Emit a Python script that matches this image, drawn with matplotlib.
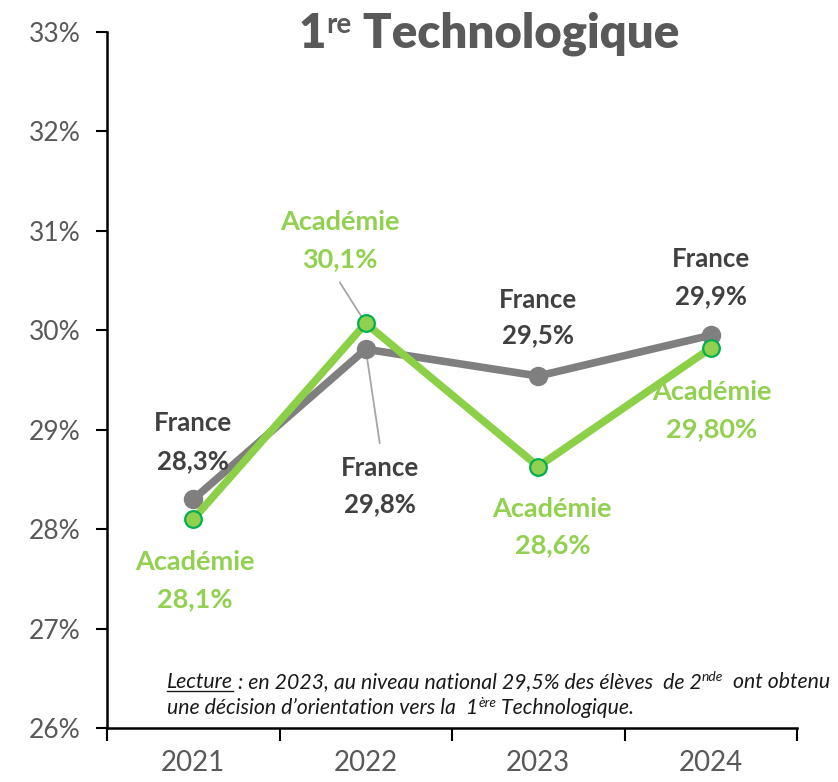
import matplotlib
matplotlib.use('Agg')
import matplotlib.pyplot as plt

plt.rcParams['font.family'] = ['Lato', 'DejaVu Sans']

# ---- data ----
years = ['2021', '2022', '2023', '2024']
france = [28.30, 29.81, 29.54, 29.95]
academie = [28.10, 30.07, 28.63, 29.82]
france_labels = ['28,3%', '29,8%', '29,5%', '29,9%']
academie_labels = ['28,1%', '30,1%', '28,6%', '29,80%']
france_name = 'France'
academie_name = 'Académie'
yticks = [26, 27, 28, 29, 30, 31, 32, 33]
ytick_labels = ['26%', '27%', '28%', '29%', '30%', '31%', '32%', '33%']

# label offsets in pixels (dx, dy_line1, dy_line2) relative to the point
france_off = [(0, 76, 38), (14, -119, -155), (0, 76, 41), (0, 76, 39)]
academie_off = [(2, -43, -80), (-26, 101, 64), (14, -42, -79), (1, -44, -81)]
france_leader = [None, (14, -94), None, None]
academie_leader = [None, (-26, 41), None, None]

W, H = 838, 782
fig = plt.figure(figsize=(W / 100, H / 100), dpi=100)
ax = fig.add_axes([107 / W, 1 - 728 / H, (797 - 107) / W, (728 - 32) / H])

GREEN = '#8CD048'
GRAY = '#7F7F7F'
xs = list(range(len(years)))

ax.plot(xs, france, color=GRAY, lw=5.5, marker='o', ms=13, mfc=GRAY, mec=GRAY,
        solid_joinstyle='round', zorder=3, clip_on=False)
ax.plot(xs, academie, color=GREEN, lw=5.5, marker='o', ms=12, mfc='#92D050',
        mec='#00B050', mew=1.6, solid_joinstyle='round', zorder=4, clip_on=False)

ax.set_xlim(-0.5, len(years) - 0.5)
ax.set_ylim(yticks[0], yticks[-1])

for s in ['top', 'right']:
    ax.spines[s].set_visible(False)
for s in ['left', 'bottom']:
    ax.spines[s].set_linewidth(1.8)
    ax.spines[s].set_color('black')

ax.set_yticks(yticks)
ax.set_yticklabels(ytick_labels)
ax.tick_params(axis='y', direction='out', length=8, width=1.5, labelsize=19,
               labelcolor='#595959', pad=11, color='black')
ax.set_xticks(xs)
ax.set_xticklabels(years)
ax.tick_params(axis='x', which='major', length=0, labelsize=20,
               labelcolor='#595959', pad=16)
ax.set_xticks([i - 0.5 for i in range(len(years) + 1)], minor=True)
ax.tick_params(axis='x', which='minor', direction='out', length=9, width=1.5,
               color='black')

# data labels
def add_label(i, val, name, txt, off, color, size):
    dx, dy1, dy2 = off
    ax.annotate(name, xy=(i, val), xytext=(dx, dy1), textcoords='offset pixels',
                ha='center', va='center', fontsize=size, fontweight='bold',
                color=color, zorder=6)
    ax.annotate(txt, xy=(i, val), xytext=(dx, dy2), textcoords='offset pixels',
                ha='center', va='center', fontsize=size, fontweight='bold',
                color=color, zorder=6)

for i in xs:
    add_label(i, france[i], france_name, france_labels[i], france_off[i], '#404040', 18.5)
    add_label(i, academie[i], academie_name, academie_labels[i], academie_off[i], '#92D050', 19.5)
    if france_leader[i] is not None:
        ax.annotate('', xy=(i, france[i]), xytext=france_leader[i],
                    textcoords='offset pixels',
                    arrowprops=dict(arrowstyle='-', color='#A6A6A6', lw=1.3,
                                    shrinkA=0, shrinkB=0), zorder=2)
    if academie_leader[i] is not None:
        ax.annotate('', xy=(i, academie[i]), xytext=academie_leader[i],
                    textcoords='offset pixels',
                    arrowprops=dict(arrowstyle='-', color='#A6A6A6', lw=1.3,
                                    shrinkA=0, shrinkB=0), zorder=2)

# ---- text runs helper (pixel coordinates from top-left) ----
fig.canvas.draw()
renderer = fig.canvas.get_renderer()

def draw_runs(x, y, runs, color):
    for (s, size, weight, style, rise, underline) in runs:
        t = fig.text(x / W, 1 - (y - rise) / H, s, fontsize=size, fontweight=weight,
                     fontstyle=style, color=color, ha='left', va='baseline')
        bb = t.get_window_extent(renderer=renderer)
        if underline:
            uy = 1 - (y + 2.5) / H
            fig.add_artist(plt.Line2D([bb.x0 / W, bb.x1 / W], [uy, uy],
                                      color=color, lw=1.0,
                                      transform=fig.transFigure))
        x += bb.width

# title
draw_runs(299, 48, [
    ('1', 34, 'heavy', 'normal', 0, False),
    ('re', 20, 'bold', 'normal', 15, False),
    (' Technologique', 34, 'heavy', 'normal', 0, False),
], '#595959')

# reading note
draw_runs(167, 688, [
    ('Lecture', 15.3, 'normal', 'italic', 0, True),
    (' : en 2023, au niveau national 29,5% des élèves  de 2', 15.3, 'normal', 'italic', 0, False),
    ('nde', 10, 'normal', 'italic', 7, False),
    ('  ont obtenu', 15.3, 'normal', 'italic', 0, False),
], '#1A1A1A')
draw_runs(167, 714, [
    ('une décision d’orientation vers la  1', 15.3, 'normal', 'italic', 0, False),
    ('ère', 10, 'normal', 'italic', 7, False),
    (' Technologique.', 15.3, 'normal', 'italic', 0, False),
], '#1A1A1A')

fig.savefig('out.png', dpi=100)
